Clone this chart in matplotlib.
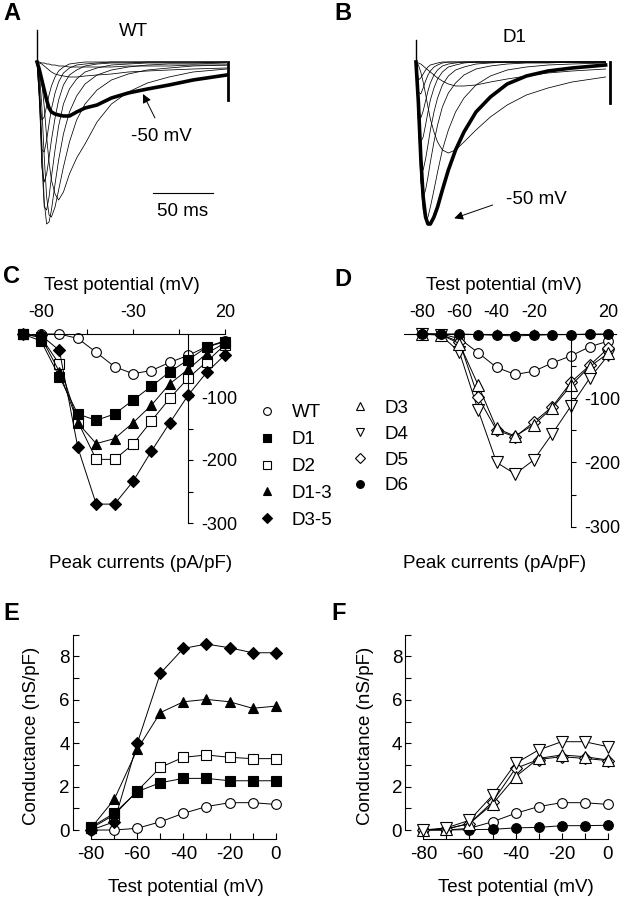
import numpy as np
import matplotlib.pyplot as plt
from matplotlib.lines import Line2D

plt.rcParams['font.family'] = ['Liberation Sans', 'DejaVu Sans']
plt.rcParams['font.size'] = 13.5
plt.rcParams['axes.unicode_minus'] = False

# ---- A / B: current traces (time in ms, current in arbitrary pA units)
trace_t = [0, 2, 4, 6, 8, 10, 12, 15, 18, 22, 27, 33, 40, 50, 62, 76, 92, 110, 130, 158]
trace_mv = [-70, -60, -50, -40, -30, -20, -10, 0, 10, 20]
wt_traces = [
    [0, 0, -1, -1, -2, -2, -3, -3, -4, -4, -5, -5, -5, -5, -5, -4, -4, -4, -3, -3],
    [0, -1, -2, -4, -6, -8, -10, -12, -13, -14, -15, -15, -14, -13, -12, -10, -9, -8, -7, -6],
    [0, -8, -18, -28, -38, -46, -50, -52, -53, -54, -54, -50, -46, -43, -36, -31, -27, -23, -18, -13],
    [0, -5, -20, -45, -75, -100, -118, -132, -138, -130, -112, -96, -82, -60, -42, -30, -21, -15, -10, -7],
    [0, -10, -45, -95, -135, -153, -155, -145, -128, -105, -80, -58, -42, -28, -18, -12, -8, -6, -4, -3],
    [0, -18, -80, -140, -162, -160, -148, -122, -98, -72, -50, -34, -22, -13, -8, -5, -3, -2, -2, -1],
    [0, -25, -100, -145, -148, -135, -115, -88, -64, -42, -27, -17, -10, -6, -3, -2, -1, -1, -1, 0],
    [0, -35, -105, -120, -112, -96, -78, -56, -38, -23, -13, -8, -4, -2, -1, -1, 0, 0, 0, 0],
    [0, -40, -88, -90, -78, -62, -47, -31, -20, -11, -6, -3, -2, -1, 0, 0, 0, 0, 0, 0],
    [0, -35, -58, -55, -44, -33, -24, -15, -9, -5, -2, -1, 0, 0, 0, 0, 0, 0, 0, 0],
]
d1_traces = [
    [0, -1, -2, -4, -6, -8, -10, -13, -16, -19, -22, -24, -24, -23, -20, -17, -14, -11, -9, -7],
    [0, -3, -10, -20, -32, -45, -57, -70, -80, -88, -91, -88, -80, -68, -55, -43, -33, -26, -20, -15],
    [0, -40, -95, -135, -155, -162, -162, -155, -145, -128, -108, -88, -70, -50, -35, -22, -14, -9, -6, -3],
    [0, -45, -110, -148, -158, -155, -145, -128, -110, -88, -68, -50, -36, -23, -14, -8, -5, -3, -2, -1],
    [0, -55, -120, -135, -128, -115, -100, -80, -63, -45, -31, -21, -13, -7, -4, -2, -1, -1, 0, 0],
    [0, -60, -105, -108, -97, -83, -68, -50, -36, -23, -14, -8, -5, -2, -1, 0, 0, 0, 0, 0],
    [0, -55, -80, -75, -63, -50, -38, -26, -17, -10, -5, -3, -1, 0, 0, 0, 0, 0, 0, 0],
    [0, -45, -56, -49, -39, -29, -21, -13, -8, -4, -2, -1, 0, 0, 0, 0, 0, 0, 0, 0],
    [0, -30, -32, -26, -19, -13, -9, -5, -3, -1, 0, 0, 0, 0, 0, 0, 0, 0, 0, 0],
    [0, -18, -16, -12, -8, -5, -3, -2, -1, 0, 0, 0, 0, 0, 0, 0, 0, 0, 0, 0],
]
highlight_mv = -50
# stimulus artifacts: (time, peak)
wt_artifacts = [(0, 32), (159, -38)]
d1_artifacts = [(0, 22), (162, -41)]

# ---- C / D: peak current-voltage relations (pA/pF)
v_c = [-90, -80, -70, -60, -50, -40, -30, -20, -10, 0, 10, 20]
v_d = [-80, -70, -60, -50, -40, -30, -20, -10, 0, 10, 20]
iv_wt = [0, 0, -7, -29, -52, -63, -58, -45, -34, -20, -11]
iv_d1 = [0, -11, -68, -127, -137, -127, -105, -83, -60, -41, -21, -12]
iv_d2 = [0, -5, -48, -139, -199, -199, -175, -138, -102, -70, -44, -17]
iv_d13 = [0, -5, -60, -141, -174, -166, -141, -113, -79, -56, -31, -14]
iv_d35 = [0, -2, -26, -180, -270, -270, -234, -186, -141, -97, -61, -33]
iv_d3 = [0, -1, -15, -79, -147, -159, -141, -115, -80, -51, -30]
iv_d4 = [0, -2, -28, -118, -200, -218, -196, -155, -112, -69, -33]
iv_d5 = [0, -1, -12, -98, -150, -160, -137, -113, -75, -49, -22]
iv_d6 = [0, 0, 0, -1, -2, -3, -2, -1, -1, 0, 0]

# ---- E / F: conductance (nS/pF)
v_g = [-80, -70, -60, -50, -40, -30, -20, -10, 0]
g_wt = [0, 0, 0.08, 0.38, 0.77, 1.08, 1.26, 1.26, 1.18]
g_d1 = [0.14, 0.77, 1.77, 2.18, 2.38, 2.38, 2.27, 2.27, 2.27]
g_d2 = [0.08, 0.7, 1.8, 2.89, 3.35, 3.46, 3.35, 3.29, 3.29]
g_d13 = [0.1, 1.41, 3.72, 5.41, 5.91, 6.02, 5.91, 5.61, 5.71]
g_d35 = [0, 0.38, 4.0, 7.22, 8.37, 8.57, 8.4, 8.17, 8.17]
g_d3 = [0, 0.05, 0.3, 1.2, 2.46, 3.3, 3.46, 3.38, 3.23]
g_d4 = [0, 0.1, 0.45, 1.6, 3.07, 3.69, 4.07, 4.07, 3.84]
g_d5 = [0, 0.05, 0.3, 1.3, 2.84, 3.25, 3.38, 3.3, 3.2]
g_d6 = [0, 0, 0.02, 0.03, 0.1, 0.12, 0.2, 0.2, 0.22]

# marker style per construct: (marker, face, size)
styles = {
    'WT': ('o', 'white', 7), 'D1': ('s', 'black', 7), 'D2': ('s', 'white', 7.5),
    'D1-3': ('^', 'black', 7.5), 'D3-5': ('D', 'black', 6.5),
    'D3': ('^', 'white', 8), 'D4': ('v', 'white', 8), 'D5': ('D', 'white', 6.5),
    'D6': ('o', 'black', 7),
}

W, H = 622, 900
fig = plt.figure(figsize=(W / 100, H / 100), dpi=100)


def px_axes(x0, y0, x1, y1):
    # axes from pixel box (top-left origin)
    return fig.add_axes([x0 / W, 1 - y1 / H, (x1 - x0) / W, (y1 - y0) / H])


def ftext(x, y, s, **kw):
    fig.text(x / W, 1 - y / H, s, ha='center', va='center', **kw)


def draw_traces(ax, traces, artifacts):
    for mv, tr in zip(trace_mv, traces):
        thick = mv == highlight_mv
        ax.plot(trace_t, tr, color='black', lw=2.6 if thick else 0.55,
                zorder=3 if thick else 2, solid_joinstyle='round')
    for t, peak in artifacts:
        ax.plot([t, t], [0, peak], color='black', lw=2.0 if peak < 0 else 1.0)
    ax.axis('off')


def arrow(ax, tail, tip):
    ax.annotate('', xy=tip, xytext=tail,
                arrowprops=dict(arrowstyle='-|>', color='black', lw=0.7,
                                shrinkA=0, shrinkB=0, mutation_scale=13))


def plot_series(ax, v, vals, name, lw=0.7, z=2):
    m, fc, ms = styles[name]
    ax.plot(v, vals, color='black', lw=lw, marker=m, mfc=fc, mec='black',
            mew=0.8, ms=ms, clip_on=False, zorder=z)


# ---------------- A ----------------
axA = px_axes(20, 15, 250, 245)
axA.set_xlim(-14.2, 177.5)
axA.set_ylim(-183, 47)
draw_traces(axA, wt_traces, wt_artifacts)
axA.text(80.8, 30, 'WT', ha='center', va='center')
axA.plot([96.7, 146.7], [-131, -131], color='black', lw=0.8)
axA.text(121.7, -149, '50 ms', ha='center', va='center')
axA.text(103.9, -74.7, '-50 mV', ha='center', va='center')
arrow(axA, (98.3, -56), (88.3, -32))

# ---------------- B ----------------
axB = px_axes(400, 15, 620, 245)
axB.set_xlim(-13.3, 170)
axB.set_ylim(-183, 47)
draw_traces(axB, d1_traces, d1_artifacts)
axB.text(81.9, 24.3, 'D1', ha='center', va='center')
axB.text(100, -138, '-50 mV', ha='center', va='center')
arrow(axB, (63.9, -143), (31.9, -156.3))


# ---------------- C / D ----------------
def iv_axes(ax, xl, xb, xt, xminor):
    ax.set_xlim(*xl)
    ax.set_ylim(-300, 0)
    ax.patch.set_alpha(0)
    ax.spines['bottom'].set_visible(False)
    ax.spines['left'].set_visible(False)
    ax.spines['top'].set_bounds(*xb)
    ax.spines['right'].set_position(('data', 0))
    ax.spines['right'].set_bounds(-300, 0)
    for s in ax.spines.values():
        s.set_linewidth(0.8)
    ax.xaxis.tick_top()
    ax.yaxis.tick_right()
    ax.set_xticks(xt)
    ax.set_xticks(xminor, minor=True)
    ax.set_yticks([-300, -200, -100])
    ax.set_yticks([-250, -150, -50], minor=True)
    ax.tick_params(which='both', direction='out', length=3.5, width=0.8, pad=6, labelsize=13)


axC = px_axes(18.9, 334, 228.7, 523)
iv_axes(axC, (-92, 22), (-85, 20), [-80, -30, 20], [-55, -5])
plot_series(axC, v_d, iv_wt, 'WT')
plot_series(axC, v_c, iv_d2, 'D2')
plot_series(axC, v_c, iv_d13, 'D1-3')
plot_series(axC, v_c, iv_d35, 'D3-5')
plot_series(axC, v_c, iv_d1, 'D1', z=3)

axD = px_axes(399.9, 334, 617.5, 526.7)
iv_axes(axD, (-92, 25), (-90, 24), [-80, -60, -40, -20, 20], [])
plot_series(axD, v_d, iv_wt, 'WT')
plot_series(axD, v_d, iv_d4, 'D4')
plot_series(axD, v_d, iv_d5, 'D5')
plot_series(axD, v_d, iv_d3, 'D3')
plot_series(axD, v_d, iv_d6, 'D6', z=3)

ftext(122, 285, 'Test potential (mV)')
ftext(504, 285, 'Test potential (mV)')
ftext(141, 563, 'Peak currents (pA/pF)')
ftext(495, 563, 'Peak currents (pA/pF)')


def handles(names):
    out = []
    for n in names:
        m, fc, ms = styles[n]
        out.append(Line2D([], [], ls='none', marker=m, mfc=fc, mec='black', mew=0.8,
                          ms=ms * 0.8, label=n))
    return out


leg_kw = dict(frameon=False, handlelength=1.0, handletextpad=0.8, borderpad=0,
              borderaxespad=0, loc='center left', fontsize=13.5)
fig.legend(handles=handles(['WT', 'D1', 'D2', 'D1-3', 'D3-5']), labelspacing=0.52,
           bbox_to_anchor=(258 / W, 1 - 466.6 / H), **leg_kw)
fig.legend(handles=handles(['D3', 'D4', 'D5', 'D6']), labelspacing=0.47,
           bbox_to_anchor=(351 / W, 1 - 447 / H), **leg_kw)


# ---------------- E / F ----------------
def g_axes(ax):
    ax.set_xlim(-88, 3)
    ax.set_ylim(-0.4, 9.2)
    ax.spines[['top', 'right']].set_visible(False)
    ax.spines['bottom'].set_bounds(-80, 0)
    ax.spines['left'].set_bounds(0, 9)
    for s in ax.spines.values():
        s.set_linewidth(0.8)
    ax.set_xticks([-80, -60, -40, -20, 0])
    ax.set_xticks([-70, -50, -30, -10], minor=True)
    ax.set_yticks([0, 2, 4, 6, 8])
    ax.set_yticks([1, 3, 5, 7, 9], minor=True)
    ax.tick_params(which='both', direction='in', length=4, width=0.8, labelsize=13.5)
    ax.tick_params(axis='x', pad=5.5)
    ax.tick_params(axis='y', pad=2)
    ax.patch.set_alpha(0)


axE = px_axes(72.7, 630.4, 282.6, 838.7)
g_axes(axE)
plot_series(axE, v_g, g_wt, 'WT')
plot_series(axE, v_g, g_d2, 'D2')
plot_series(axE, v_g, g_d1, 'D1')
plot_series(axE, v_g, g_d13, 'D1-3')
plot_series(axE, v_g, g_d35, 'D3-5')

axF = px_axes(405, 630.4, 614.6, 838.7)
g_axes(axF)
plot_series(axF, v_g, g_wt, 'WT')
plot_series(axF, v_g, g_d6, 'D6')
plot_series(axF, v_g, g_d5, 'D5')
plot_series(axF, v_g, g_d3, 'D3')
plot_series(axF, v_g, g_d4, 'D4')

ftext(31.7, 736, 'Conductance (nS/pF)', rotation=90)
ftext(366, 736, 'Conductance (nS/pF)', rotation=90)
ftext(186, 888, 'Test potential (mV)')
ftext(516, 888, 'Test potential (mV)')

# panel letters
for lab, x, y in [('A', 12, 14), ('B', 343, 14), ('C', 11, 277), ('D', 343, 279),
                  ('E', 11, 613), ('F', 339, 613)]:
    ftext(x, y, lab, fontsize=17, fontweight='bold')

fig.savefig('out.png', dpi=100)
